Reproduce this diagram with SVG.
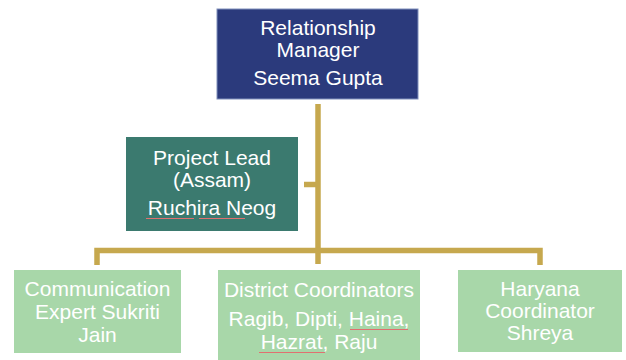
<svg xmlns="http://www.w3.org/2000/svg" width="626" height="360" viewBox="0 0 626 360">
<style>
.t{font-family:"Liberation Sans",Arial,sans-serif;font-size:21px;fill:#ffffff;text-anchor:middle}
.c{fill:none;stroke:#C6A84E;stroke-width:5.5;stroke-linejoin:miter}
.sq{fill:none;stroke:#E07070;stroke-width:1}
</style>
<rect width="626" height="360" fill="#ffffff"/>
<g id="connectors">
<path class="c" d="M318,104 V264"/>
<path class="c" d="M304,184.5 H318"/>
<path class="c" d="M97,265 V250.5 H540 V265"/>
</g>
<g id="relationship-manager">
<rect x="217" y="9" width="201" height="90" fill="#2B3A7C" stroke="#8090BC" stroke-width="1"/>
<text class="t" x="318" y="35">Relationship</text>
<text class="t" x="318" y="57">Manager</text>
<text class="t" x="318" y="85">Seema Gupta</text>
</g>
<g id="project-lead">
<rect x="126" y="137" width="172" height="94" fill="#3B7A6F"/>
<text class="t" x="212" y="165">Project Lead</text>
<text class="t" x="212" y="187">(Assam)</text>
<text class="t" x="212" y="215">Ruchira Neog</text>
<path class="sq" d="M146,218.5 H194 M199,218.5 H245"/>
</g>
<g id="communication-expert">
<rect x="14" y="270" width="167" height="83" fill="#A8D7A9"/>
<text class="t" x="97.5" y="296">Communication</text>
<text class="t" x="97.5" y="319">Expert Sukriti</text>
<text class="t" x="97.5" y="342">Jain</text>
</g>
<g id="district-coordinators">
<rect x="218" y="270" width="202" height="92" fill="#A8D7A9"/>
<text class="t" x="319" y="297">District Coordinators</text>
<text class="t" x="319" y="326">Ragib, Dipti, Haina,</text>
<text class="t" x="319" y="349">Hazrat, Raju</text>
<path class="sq" d="M350,329.5 H408 M259,352.5 H325"/>
</g>
<g id="haryana-coordinator">
<rect x="458" y="270" width="164" height="82" fill="#A8D7A9"/>
<text class="t" x="540" y="296">Haryana</text>
<text class="t" x="540" y="318">Coordinator</text>
<text class="t" x="540" y="340">Shreya</text>
</g>
</svg>
